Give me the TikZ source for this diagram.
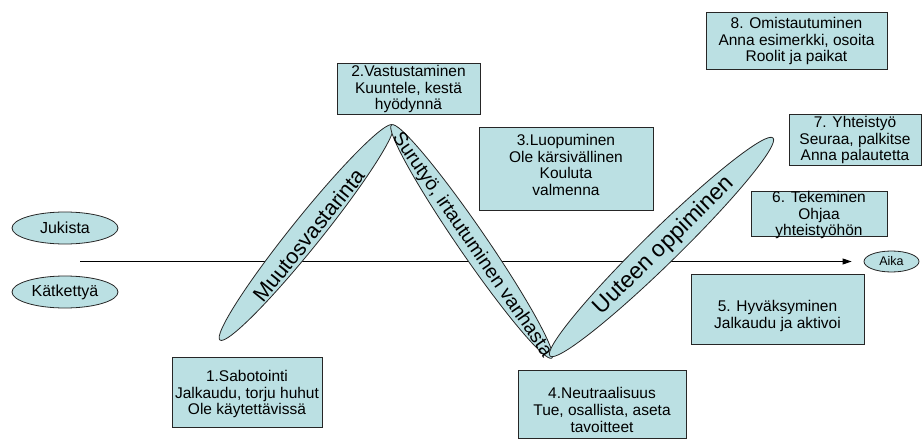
\documentclass[tikz,border=0pt]{standalone}
\usepackage{fontspec}
\setmainfont{Liberation Sans}
\usetikzlibrary{shapes.geometric,arrows.meta}
\definecolor{boxfill}{RGB}{187,224,227}
\begin{document}
\begin{tikzpicture}[x=1pt,y=-1pt,
  box/.style={draw=black!85, line width=0.8pt, fill=boxfill, rectangle, inner sep=0pt},
  btext/.style={align=center, font=\fontsize{15.5}{16.8}\selectfont, inner sep=0pt},
  oval/.style={draw=black!85, line width=0.8pt, fill=boxfill, ellipse, inner sep=0pt},
  ovtext/.style={inner sep=0pt},
]
\useasboundingbox (0,0) rectangle (922,439);

% time axis
\node[oval, minimum width=55pt, minimum height=21pt, font=\fontsize{12.5}{14}\selectfont] (aika) at (891.5,261.5) {Aika};
\coordinate (axs) at (80,261.5);
\draw[line width=0.9pt, -{Triangle[length=9pt,width=6pt]}, shorten >=12pt] (axs) -- (aika);

% left ovals
\node[oval, minimum width=106pt, minimum height=32pt, font=\fontsize{16}{18}\selectfont] (jukista) at (65,228) {Jukista};
\node[oval, minimum width=106pt, minimum height=32pt, font=\fontsize{16}{18}\selectfont] (katketty) at (65,292) {Kätkettyä};

% long rotated ellipses
\node[oval, minimum width=276pt, minimum height=30pt, rotate=51.2] (muutos) at (306.4,232.5) {};
\node[ovtext, rotate=51.2, font=\fontsize{21.5}{24}\selectfont] (muutost) at (309,235) {Muutosvastarinta};

\node[oval, minimum width=283pt, minimum height=28pt, rotate=-55.5] (suru) at (471.7,241.5) {};
\node[ovtext, rotate=-55.5, font=\fontsize{19.3}{22}\selectfont] (surut) at (472,245) {Surutyö, irtautuminen vanhasta};

\node[oval, minimum width=312pt, minimum height=34pt, rotate=44.35] (uuteen) at (661.5,247) {};
\node[ovtext, rotate=44.35, font=\fontsize{23}{26}\selectfont] (uuteent) at (664,246) {Uuteen oppiminen};

% boxes
\node[box, minimum width=150pt, minimum height=70pt] (b1) at (247,392) {};
\node[btext] (t1) at (247,394) {1.Sabotointi\\Jalkaudu, torju huhut\\Ole käytettävissä};

\node[box, minimum width=143pt, minimum height=51pt] (b2) at (408.5,88.5) {};
\node[btext] (t2) at (408.5,89) {2.Vastustaminen\\Kuuntele, kestä\\hyödynnä};

\node[box, minimum width=174pt, minimum height=83pt] (b3) at (566,168.5) {};
\node[btext] (t3) at (566,165) {3.Luopuminen\\Ole kärsivällinen\\Kouluta\\valmenna};

\node[box, minimum width=168pt, minimum height=68pt] (b4) at (602,404) {};
\node[btext] (t4) at (602,410) {4.Neutraalisuus\\Tue, osallista, aseta\\tavoitteet};

\node[box, minimum width=173pt, minimum height=70pt] (b5) at (777.5,309) {};
\node[btext] (t5) at (777.5,316) {5. Hyväksyminen\\Jalkaudu ja aktivoi};

\node[box, minimum width=136pt, minimum height=45pt] (b6) at (819,213.5) {};
\node[btext] (t6) at (819,215) {6. Tekeminen\\Ohjaa\\yhteistyöhön};

\node[box, minimum width=132pt, minimum height=51pt] (b7) at (855,139.5) {};
\node[btext] (t7) at (855,140) {7. Yhteistyö\\Seuraa, palkitse\\Anna palautetta};

\node[box, minimum width=181pt, minimum height=57pt] (b8) at (796.5,40.5) {};
\node[btext] (t8) at (796.5,41) {8. Omistautuminen\\Anna esimerkki, osoita\\Roolit ja paikat};
\end{tikzpicture}
\end{document}
